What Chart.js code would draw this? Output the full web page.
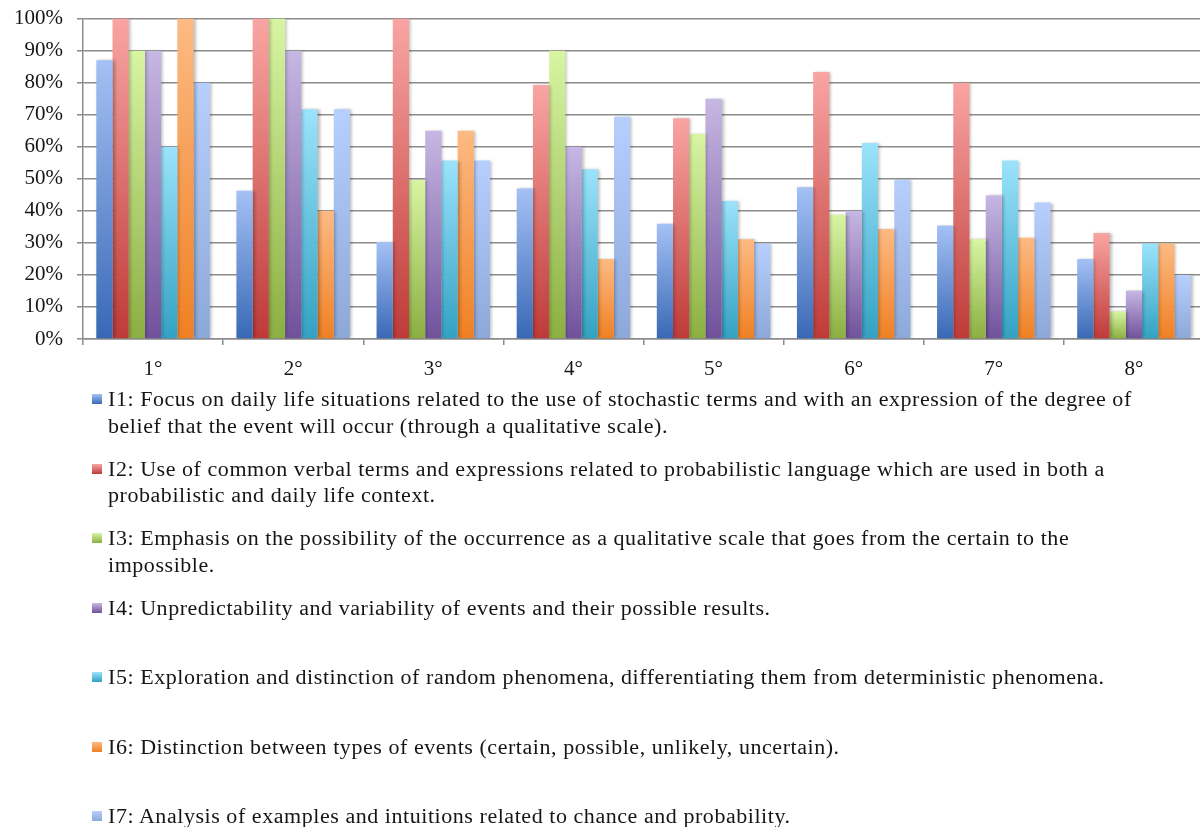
<!DOCTYPE html>
<html>
<head>
<meta charset="utf-8">
<script src="https://cdn.jsdelivr.net/npm/chart.js@4.4.1/dist/chart.umd.min.js"></script>
<style>
  html, body { margin: 0; padding: 0; background: #fff; overflow: hidden; }
  body { width: 1200px; height: 827px; position: relative; }
  #wrap { position: absolute; left: 0; top: -8px; width: 1204px; height: 398px; }
  #legend { position: absolute; left: 0; top: 0; width: 1200px; height: 827px; pointer-events: none; }
  .item { position: absolute; left: 0; font-family: "Liberation Serif", "Times New Roman", serif;
          font-size: 20px; letter-spacing: 0.5px; line-height: 26.5px; color: #151515; white-space: nowrap; }
  .item .mk { position: absolute; left: 92px; top: 8px; width: 10px; height: 10px; }
  .item .tx { position: absolute; left: 108px; top: 0; transform: scaleX(1.1); transform-origin: 0 0; }
</style>
</head>
<body>
<div id="wrap"><canvas id="chart" width="1204" height="398"></canvas></div>
<div id="legend"></div>
<script>
// School grades on the x axis
const grades = ["1°", "2°", "3°", "4°", "5°", "6°", "7°", "8°"];

// Percentage of each indicator per grade
const i1 = [87, 46.3, 30.3, 47, 36, 47.4, 35.4, 25];
const i2 = [100, 100, 100, 79.3, 68.9, 83.3, 80, 33.1];
const i3 = [90, 100, 49.6, 90, 64, 38.8, 31.1, 8.6];
const i4 = [90, 90, 65, 60, 75, 40, 44.8, 15.1];
const i5 = [60, 71.7, 55.7, 53, 43.1, 61.2, 55.7, 29.8];
const i6 = [100, 40, 65, 25, 31.1, 34.3, 31.6, 29.8];
const i7 = [80, 71.7, 55.7, 69.4, 29.8, 49.7, 42.6, 20];

// Legend text, one entry per indicator, split into its printed lines
const legendLines = [
  ["I1: Focus on daily life situations related to the use of stochastic terms and with an expression of the degree of",
   "belief that the event will occur (through a qualitative scale)."],
  ["I2: Use of common verbal terms and expressions related to probabilistic language which are used in both a",
   "probabilistic and daily life context."],
  ["I3: Emphasis on the possibility of the occurrence as a qualitative scale that goes from the certain to the",
   "impossible."],
  ["I4: Unpredictability and variability of events and their possible results."],
  ["I5: Exploration and distinction of random phenomena, differentiating them from deterministic phenomena."],
  ["I6: Distinction between types of events (certain, possible, unlikely, uncertain)."],
  ["I7: Analysis of examples and intuitions related to chance and probability."]
];

const seriesNames = ["I1", "I2", "I3", "I4", "I5", "I6", "I7"];
const seriesValues = [i1, i2, i3, i4, i5, i6, i7];

// Light (top) and dark (bottom) shade of each bar gradient
const lightShades = ["#a5c1f5", "#f9a5a3", "#d8f5a3", "#c7b7e3", "#9be3fb", "#fdba83", "#b7cffd"];
const darkShades  = ["#3868b5", "#be3a37", "#8baf41", "#70519b", "#33a1c2", "#ef8023", "#8ca8d9"];

const yTicks = [0, 10, 20, 30, 40, 50, 60, 70, 80, 90, 100];

function barGradient(idx) {
  return function (ctx) {
    const chart = ctx.chart;
    const ys = chart.scales && chart.scales.y;
    if (ctx.type !== 'data' || !ys || !chart.chartArea) return lightShades[idx];
    const v = ctx.parsed ? ctx.parsed.y : ctx.raw;
    const top = ys.getPixelForValue(v);
    const base = ys.getPixelForValue(0);
    if (!isFinite(top) || !isFinite(base) || top === base) return lightShades[idx];
    const g = chart.ctx.createLinearGradient(0, top, 0, base);
    g.addColorStop(0, lightShades[idx]);
    g.addColorStop(1, darkShades[idx]);
    return g;
  };
}

const datasets = seriesNames.map((name, k) => ({
  label: name,
  data: seriesValues[k],
  backgroundColor: barGradient(k),
  borderWidth: 0,
  barPercentage: 1.0,
  categoryPercentage: 0.81
}));

// Soft drop shadow behind the bars
const barShadow = {
  id: 'barShadow',
  beforeDatasetsDraw(chart) {
    const c = chart.ctx;
    c.save();
    c.shadowColor = 'rgba(0,0,0,0.28)';
    c.shadowBlur = 3;
    c.shadowOffsetX = 2;
    c.shadowOffsetY = 0;
  },
  afterDatasetsDraw(chart) {
    chart.ctx.restore();
  }
};

const serif = "'Liberation Serif', 'Times New Roman', serif";

new Chart(document.getElementById('chart'), {
  type: 'bar',
  data: { labels: grades, datasets: datasets },
  plugins: [barShadow],
  options: {
    responsive: false,
    animation: false,
    devicePixelRatio: 1,
    layout: { padding: { top: 11, right: 0, left: 0, bottom: 0 } },
    plugins: { legend: { display: false }, tooltip: { enabled: false } },
    scales: {
      x: {
        grid: { offset: true, drawOnChartArea: false, drawTicks: true, tickLength: 6, color: '#8c8c8c', lineWidth: 1.5 },
        border: { display: true, color: '#8c8c8c', width: 1.5 },
        ticks: { color: '#151515', font: { family: serif, size: 21 }, padding: 12 },
        afterFit(scale) { scale.height = 51; }
      },
      y: {
        min: 0,
        max: 100,
        afterBuildTicks(scale) { scale.ticks = yTicks.map(v => ({ value: v })); },
        grid: { color: '#8c8c8c', lineWidth: 1.5, drawTicks: true, tickLength: 6 },
        border: { display: true, color: '#8c8c8c', width: 1.5 },
        ticks: {
          color: '#151515',
          font: { family: serif, size: 21 },
          padding: 14,
          callback: (v) => v + '%'
        },
        afterFit(scale) { scale.width = 83; }
      }
    }
  }
});

// Legend below the plot
const legend = document.getElementById('legend');
legendLines.forEach((lines, k) => {
  const item = document.createElement('div');
  item.className = 'item';
  item.style.top = (386 + k * 69.5) + 'px';
  const mk = document.createElement('div');
  mk.className = 'mk';
  mk.style.background = 'linear-gradient(to bottom, ' + lightShades[k] + ', ' + darkShades[k] + ')';
  const tx = document.createElement('div');
  tx.className = 'tx';
  tx.innerHTML = lines.map(s => s.replace(/&/g, '&amp;').replace(/</g, '&lt;')).join('<br>');
  item.appendChild(mk);
  item.appendChild(tx);
  legend.appendChild(item);
});
</script>
</body>
</html>
